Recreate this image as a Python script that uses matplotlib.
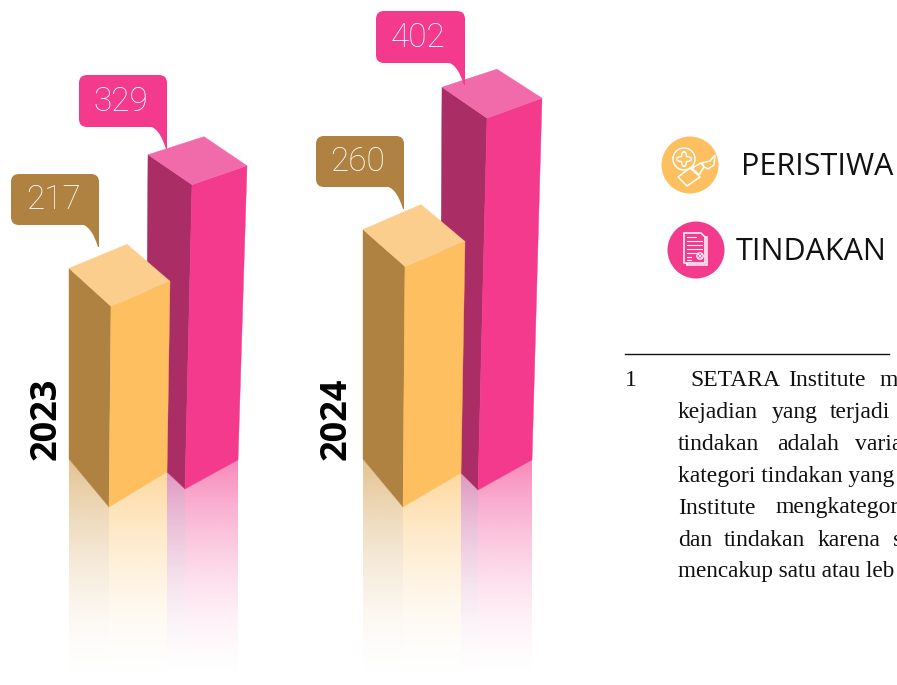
import numpy as np
import matplotlib
matplotlib.use('Agg')
import matplotlib.pyplot as plt
from matplotlib.patches import Polygon, Circle, FancyBboxPatch, PathPatch, Rectangle
from matplotlib.path import Path
from matplotlib.colors import to_rgb

# values read from the callouts
years = ['2023', '2024']
peristiwa = [217, 260]
tindakan = [329, 402]
legend_labels = ['PERISTIWA', 'TINDAKAN']

PX_PER_UNIT = 0.925
YELLOW = dict(left='#B08241', right='#FDBF5F', top='#FCCE8E', tag='#B08241', glow='#D0923A')
PINK = dict(left='#AB2D66', right='#F33A8D', top='#F16BAB', tag='#F33A8D', glow='#C4498F')

fig = plt.figure(figsize=(8.97, 6.85), dpi=100)
ax = fig.add_axes([0, 0, 1, 1])


def fade(x0, x1, y0, y1, color, a0, clip):
    # reflection under a bar face, fades out downwards
    t = np.linspace(0, 1, 200)[:, None]
    rgba = np.ones((200, 2, 4))
    rgba[..., :3] = to_rgb(color)
    rgba[..., 3] = a0 * (1 - t) ** 1.7
    im = ax.imshow(rgba, extent=(x0, x1, y1, y0), aspect='auto', zorder=1, interpolation='bilinear')
    patch = Polygon(clip, closed=True, transform=ax.transData, fc='none', ec='none')
    ax.add_patch(patch)
    im.set_clip_path(patch)


def bar3d(value, base, xs_top, xs_bot, dy_top, dy_bot, back_x, back_dy, cols, z, hide_x=None):
    # xs = left, front, right corners of the block
    top = base - value * PX_PER_UNIT
    lt, ft, rt = xs_top
    lb, fb, rb = xs_bot
    y_left = base + dy_bot[0]
    y_right = base + dy_bot[1]
    end = 684
    # hide_x: the block in front already covers the floor left of this x
    x_from = lb if hide_x is None else hide_x
    y_from = y_left + (x_from - lb) * (base - y_left) / (fb - lb)
    fade(x_from, fb, y_from - 5, end, cols['glow'], 0.58,
         [(x_from, y_from), (fb, base), (fb, end), (x_from, end)])
    fade(fb, rb, y_right - 5, end, cols['right'], 0.62,
         [(fb, base), (rb, y_right), (rb, end), (fb, end)])
    left = [(lt, top + dy_top[0]), (ft, top), (fb, base), (lb, y_left)]
    right = [(ft, top), (rt, top + dy_top[1]), (rb, y_right), (fb, base)]
    lid = [(lt, top + dy_top[0]), (back_x, top + back_dy), (rt, top + dy_top[1]), (ft, top)]
    ax.add_patch(Polygon(left, fc=cols['left'], ec=cols['left'], lw=0.3, zorder=z))
    ax.add_patch(Polygon(right, fc=cols['right'], ec=cols['right'], lw=0.3, zorder=z))
    ax.add_patch(Polygon(lid, fc=cols['top'], ec=cols['top'], lw=0.3, zorder=z))
    return top


def callout(value, x0, x1, y0, y1, color):
    ax.add_patch(FancyBboxPatch((x0 + 8, y0 + 8), x1 - x0 - 16, y1 - y0 - 16,
                                boxstyle='round,pad=8,rounding_size=8', fc=color, ec='none', zorder=6))
    verts = [(x1 - 20, y1 - 1), (x1 - 8, y1 - 1), (x1 - 1, y1 + 22), (x1, y1 + 22), (x1, y1 - 8), (x1 - 20, y1 - 8)]
    codes = [Path.MOVETO, Path.CURVE3, Path.CURVE3, Path.LINETO, Path.LINETO, Path.CLOSEPOLY]
    ax.add_patch(PathPatch(Path(verts, codes), fc=color, ec='none', zorder=6))
    ax.text((x0 + x1) / 2 - 2, (y0 + y1) / 2 + 0.5, str(value), color='white', fontsize=24, family='Roboto',
            fontweight='light', ha='center', va='center', zorder=7)


# back (pink) blocks first, the yellow ones stand in front of them
bar3d(tindakan[0], 489, (148, 192, 247), (146, 185, 238), (-30, -19), (-37, -29), 204, -48, PINK, 3, hide_x=167)
bar3d(tindakan[1], 490, (442, 487, 542), (440, 478, 532), (-31, -20), (-38, -30), 497, -49, PINK, 3, hide_x=461)
bar3d(peristiwa[0], 507, (69, 111, 170), (69, 109, 167), (-38, -25), (-48, -35), 127, -62, YELLOW, 4)
bar3d(peristiwa[1], 507, (363, 405, 465), (363, 403, 461), (-37, -25), (-48, -34), 421, -62, YELLOW, 4)

callout(peristiwa[0], 11, 99, 174, 225, YELLOW['tag'])
callout(tindakan[0], 79, 167, 75, 127, PINK['tag'])
callout(peristiwa[1], 316, 404, 136, 187, YELLOW['tag'])
callout(tindakan[1], 376, 465, 11, 63, PINK['tag'])

for yr, xp in zip(years, [47, 337]):
    ax.text(xp, 419, yr, rotation=90, fontsize=26, fontweight='bold', family='Open Sans',
            ha='center', va='center', color='black')

# legend badges
ax.add_patch(Circle((690, 165), 28.5, fc=YELLOW['right'], ec='none'))
ax.add_patch(Circle((696, 250), 28.5, fc=PINK['right'], ec='none'))
ax.text(741, 167, legend_labels[0], fontsize=22, family='Open Sans', va='center', ha='left', color='#111111')
ax.text(736, 252, legend_labels[1], fontsize=22, family='Open Sans', va='center', ha='left', color='#111111')

# peristiwa icon: crossed circle and bottle with a flame
W = dict(fc='none', ec='white', lw=1.1, zorder=5)
ax.add_patch(Circle((684, 159), 11, **W))
th = np.linspace(0, 2 * np.pi, 120)
r = 5.5 + 1.8 * np.cos(4 * th)
ax.add_patch(Polygon(np.c_[684 + r * np.cos(th), 159 + r * np.sin(th)], closed=True, **W))
ax.add_patch(Polygon([(678, 177), (690, 168), (700, 177), (687, 186)], closed=True, joinstyle='round', **W))
ax.add_patch(Polygon([(692, 168), (701, 163), (704, 167), (699, 175)], closed=True, **W))
ax.add_patch(Polygon([(702, 163), (710, 161), (715, 155), (714, 165), (708, 169), (704, 167)], closed=True, **W))

# tindakan icon: sheet of text with a stamp
ax.add_patch(Rectangle((687, 237), 20, 28, **W))
ax.add_patch(Polygon([(684, 233), (701, 233), (705, 237), (705, 263), (684, 263)], closed=True,
                     fc=PINK['right'], ec='white', lw=1.1, zorder=5))
for yy, x_end in zip([237, 241, 245, 249, 253, 257, 260], [696, 702, 702, 702, 700, 691, 691]):
    ax.plot([687, x_end], [yy, yy], color='white', lw=0.8, zorder=6)
ax.add_patch(Circle((700, 256), 3.2, fc=PINK['right'], ec='white', lw=0.9, zorder=6))
ax.plot([698, 702], [254, 258], color='white', lw=0.7, zorder=7)
ax.plot([698, 702], [258, 254], color='white', lw=0.7, zorder=7)

# footnote, cut off by the right edge of the page
ax.plot([625, 889], [354, 354], color='#111111', lw=1)
foot = [
    (625, 380, '1'),
    (690, 380, 'SETARA'), (788, 380, 'Institute'), (880, 380, 'm'),
    (678, 412, 'kejadian'), (772, 412, 'yang'), (830, 412, 'terjadi'),
    (678, 444, 'tindakan'), (777, 444, 'adalah'), (855, 444, 'varia'),
    (678, 476, 'kategori tindakan yang'),
    (678, 508, 'Institute'), (775, 508, 'mengkategor'),
    (678, 540, 'dan'), (724, 540, 'tindakan'), (818, 540, 'karena'), (893, 540, 's'),
    (678, 572, 'mencakup satu atau leb'),
]
for xp, yp, word in foot:
    fs = 16.7 if word.startswith('mencakup') else 17
    ax.text(xp, yp, word, fontsize=fs, family='Liberation Serif', va='center', ha='left', color='#111111')

ax.set_xlim(0, 897)
ax.set_ylim(685, 0)
ax.axis('off')
fig.savefig('out.png', dpi=100)
